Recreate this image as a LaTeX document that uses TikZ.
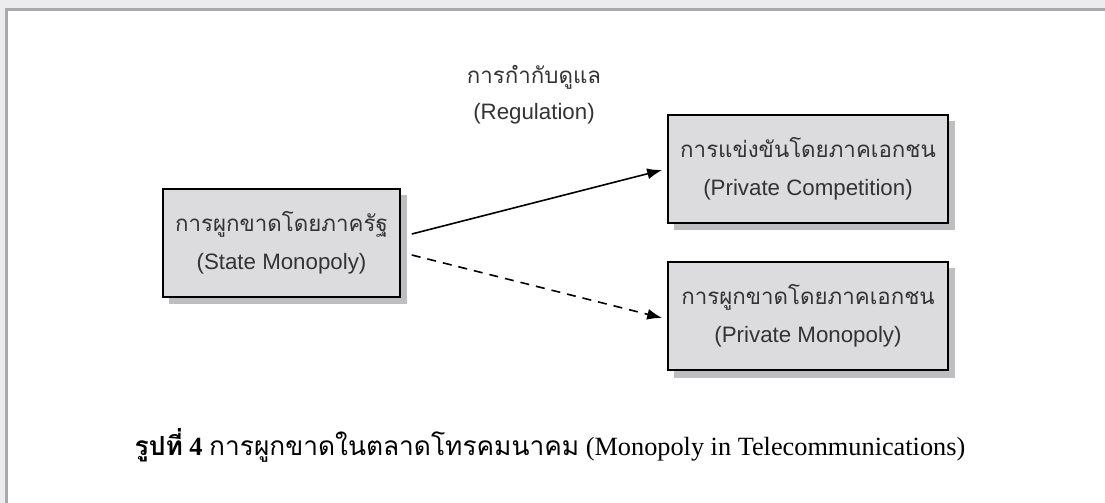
\documentclass[tikz,border=0pt]{standalone}
\usepackage{fontspec}
\setmainfont{Liberation Serif}
\setsansfont{Liberation Sans}
\newfontfamily\thai[Script=Thai]{Loma}
\usetikzlibrary{arrows.meta}
\definecolor{pagebg}{HTML}{ECECEE}
\definecolor{framegray}{HTML}{A9A9AB}
\definecolor{boxfill}{HTML}{DCDCDE}
\definecolor{shadowgray}{HTML}{BEBEC0}
\definecolor{inktext}{HTML}{333333}
\tikzset{
  x=1pt, y=-1pt,
  stagebox/.style={draw=black, line width=1.6pt, fill=boxfill,
    minimum width=#1, minimum height=108pt, inner sep=0pt,
    align=center, font=\sffamily\fontsize{22.3}{38}\selectfont, text=inktext},
  boxshadow/.style={fill=shadowgray, draw=none},
  flow/.style={line width=1.6pt, -{Latex[length=15pt,width=11pt]}},
  flowdashed/.style={flow, dash pattern=on 9pt off 7pt},
  lbl/.style={align=center, font=\sffamily\fontsize{22.3}{36}\selectfont, text=inktext}
}
\begin{document}
\begin{tikzpicture}
% page and frame
\fill[pagebg] (0,0) rectangle (1105,503);
\fill[framegray] (5,8) rectangle (1105,503);
\fill[white] (8,11) rectangle (1105,503);
\useasboundingbox (0,0) rectangle (1105,503);

% shadows under the boxes
\fill[boxshadow] (169,195) rectangle (407,304);
\fill[boxshadow] (674,121) rectangle (955,230);
\fill[boxshadow] (674,268) rectangle (955,378);

% boxes
\node[stagebox=237pt] (state) at (281.5,243)
  {{\thai การผูกขาดโดยภาครัฐ}\\(State Monopoly)};
\node[stagebox=280pt] (comp) at (808,169)
  {{\thai การแข่งขันโดยภาคเอกชน}\\(Private Competition)};
\node[stagebox=280pt] (mono) at (808,316)
  {{\thai การผูกขาดโดยภาคเอกชน}\\(Private Monopoly)};

% regulation label
\node[lbl] (reg) at (534,95) {{\thai การกำกับดูแล}\\(Regulation)};

% connectors (shifts are in page units: positive yshift points up)
\draw[flow] ([xshift=11pt,yshift=9pt]state.east) -- ([xshift=-5pt,yshift=-1pt]comp.west);
\draw[flowdashed] ([xshift=11pt,yshift=-12pt]state.east) -- ([xshift=-5pt,yshift=-2pt]mono.west);

% caption
\node[font=\fontsize{26.3}{30}\selectfont, text=black] (cap) at (550,445)
  {{\thai\bfseries รูปที่} \textbf{4} {\thai การผูกขาดในตลาดโทรคมนาคม} (Monopoly in Telecommunications)};
\end{tikzpicture}
\end{document}
